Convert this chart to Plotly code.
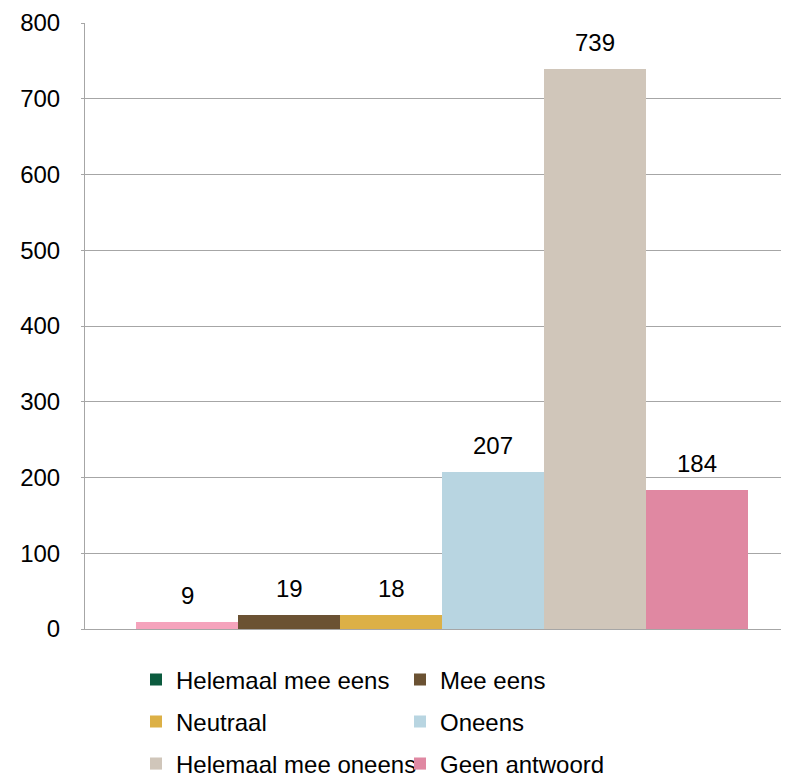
import plotly.graph_objects as go

categories = ["Helemaal mee eens", "Mee eens", "Neutraal", "Oneens",
              "Helemaal mee oneens", "Geen antwoord"]
values = [9, 19, 18, 207, 739, 184]
bar_colors = ["#f5a3bc", "#6b5233", "#dcb046", "#b8d5e1", "#d0c6ba", "#e088a2"]
legend_colors = ["#0b5b3e", "#6b5233", "#dcb046", "#b8d5e1", "#d0c6ba", "#e088a2"]
y_ticks = [0, 100, 200, 300, 400, 500, 600, 700, 800]

FONT = "Liberation Sans, Arial, sans-serif"
FS = 24
W, H = 789, 777

fig = go.Figure()
legend_names = ["legend", "legend", "legend2", "legend2", "legend3", "legend3"]

for i, (cat, val) in enumerate(zip(categories, values)):
    same = bar_colors[i] == legend_colors[i]
    fig.add_trace(go.Bar(
        x=[cat], y=[val], name=cat, width=1.0,
        marker=dict(color=bar_colors[i], line=dict(width=0)),
        showlegend=same, legend=legend_names[i],
        hoverinfo="skip",
    ))
    if not same:
        fig.add_trace(go.Bar(
            x=[cat], y=[None], name=cat, width=1.0,
            marker=dict(color=legend_colors[i], line=dict(width=0)),
            showlegend=True, legend=legend_names[i],
        ))
    fig.add_annotation(x=cat, y=val, text=str(val), showarrow=False,
                       yanchor="bottom", yshift=11,
                       font=dict(family=FONT, size=FS, color="#000000"))

# layout geometry (page has an 8px body margin)
L, R, T, B = 77, 0, 15, 156
fig.update_layout(
    width=W, height=H,
    margin=dict(l=L, r=R, t=T, b=B, pad=0),
    paper_bgcolor="white", plot_bgcolor="white",
    barmode="overlay", bargap=0,
    font=dict(family=FONT, size=FS, color="#000000"),
    xaxis=dict(type="category", categoryorder="array", categoryarray=categories,
               range=[-1.005, 5.981], showticklabels=False, ticks="",
               showgrid=False, zeroline=False,
               showline=True, linecolor="#a6a6a6", linewidth=1),
    yaxis=dict(range=[0, 800], tickvals=y_ticks, showgrid=True,
               gridcolor="#a6a6a6", gridwidth=1, zeroline=False,
               showline=True, linecolor="#a6a6a6", linewidth=1,
               ticks="outside", ticklen=3, tickcolor="#a6a6a6",
               ticklabelstandoff=16,
               tickfont=dict(family=FONT, size=FS, color="#000000")),
)

leg_common = dict(orientation="h", xref="container", yref="container",
                  xanchor="left", yanchor="middle", entrywidth=219,
                  entrywidthmode="pixels", bgcolor="rgba(0,0,0,0)",
                  font=dict(family=FONT, size=FS, color="#000000"),
                  traceorder="normal", itemclick=False)
x_leg = 128 / W
fig.update_layout(
    legend=dict(**leg_common, x=x_leg, y=1 - 672 / H),
    legend2=dict(**leg_common, x=x_leg, y=1 - 714 / H),
    legend3=dict(**leg_common, x=x_leg, y=1 - 756 / H),
)

fig.write_html("out.html")
